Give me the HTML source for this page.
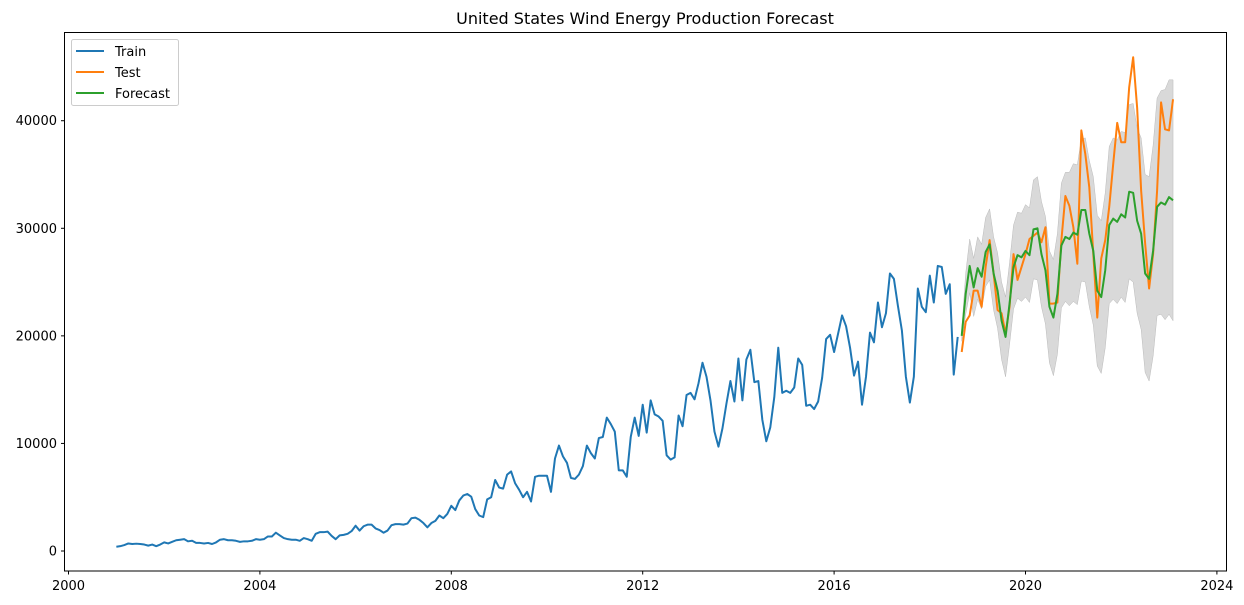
<!DOCTYPE html>
<html><head><meta charset="utf-8"><style>
body{margin:0;background:#fff;}
svg{display:block;font-family:"DejaVu Sans","Liberation Sans",sans-serif;}
</style></head><body>
<svg id="chart" width="1244" height="605" viewBox="0 0 1244 605" xmlns="http://www.w3.org/2000/svg">
<rect width="1244" height="605" fill="#fff"/>
<text x="645" y="24" font-size="16" text-anchor="middle" fill="#000">United States Wind Energy Production Forecast</text>
<g id="band"></g><g id="lines"></g>
<rect x="64.5" y="32.5" width="1162" height="538.5" fill="none" stroke="#000" stroke-width="1"/>
<g id="xaxis"></g><g id="yaxis"></g>
<g>
<rect x="71.5" y="39.5" width="107" height="66" rx="2" fill="#fff" fill-opacity="0.8" stroke="#ccc"/>
<g><line x1="76" y1="51" x2="104" y2="51" stroke="#1f77b4" stroke-width="2"/><text x="115" y="56" font-size="13">Train</text></g>
<g><line x1="76" y1="72" x2="104" y2="72" stroke="#ff7f0e" stroke-width="2"/><text x="115" y="77" font-size="13">Test</text></g>
<g><line x1="76" y1="93" x2="104" y2="93" stroke="#2ca02c" stroke-width="2"/><text x="115" y="98" font-size="13">Forecast</text></g>
</g>
</svg>
<script>
// values in thousands
const trainStartYear = 2001;
const trainValues = [0.4,0.45,0.55,0.7,0.65,0.68,0.65,0.6,0.5,0.6,0.45,0.6,0.8,0.7,0.85,1.0,1.05,1.1,0.9,0.95,0.75,0.75,0.7,0.75,0.65,0.8,1.05,1.1,1.0,1.0,0.95,0.85,0.9,0.9,0.95,1.1,1.05,1.1,1.35,1.35,1.7,1.45,1.2,1.1,1.05,1.05,0.95,1.2,1.1,0.95,1.6,1.75,1.75,1.8,1.4,1.1,1.45,1.5,1.6,1.85,2.35,1.9,2.3,2.45,2.45,2.1,1.95,1.7,1.9,2.4,2.5,2.5,2.45,2.55,3.05,3.1,2.9,2.6,2.2,2.6,2.8,3.3,3.05,3.45,4.2,3.8,4.7,5.15,5.3,5.05,3.9,3.3,3.15,4.8,5.0,6.6,
5.9,5.8,7.1,7.4,6.3,5.7,5.0,5.5,4.6,6.9,7.0,7.0,7.0,5.5,8.6,9.8,8.8,8.2,6.8,6.7,7.1,7.9,9.8,9.1,8.6,10.5,10.6,12.4,11.8,11.1,7.5,7.5,6.9,10.6,12.4,10.7,13.6,11.0,14.0,12.7,12.5,12.1,8.9,8.5,8.7,12.6,11.6,14.5,14.7,14.1,15.6,17.5,16.2,14.0,11.1,9.7,11.4,13.7,15.8,13.9,17.9,14.0,17.8,18.7,15.7,15.8,
12.2,10.2,11.5,14.3,18.9,14.7,14.9,14.7,15.2,17.9,17.3,13.5,13.6,13.2,13.9,16.1,19.7,20.1,18.5,20.2,21.9,20.9,18.9,16.3,17.6,13.6,16.2,20.3,19.4,23.1,20.8,22.1,25.8,25.3,22.8,20.5,16.2,13.8,16.2,24.4,22.7,22.2,25.6,23.1,26.5,26.4,23.9,24.8,16.4,19.9];
const testValues = [18.5,21.3,21.9,24.2,24.2,22.7,26.4,28.9,25.8,22.4,22.1,20.2,22.7,27.6,25.2,26.4,27.6,29.0,29.3,29.6,28.7,30.1,23.0,23.0,23.1,28.9,33.0,32.1,30.1,26.7,39.1,36.9,33.8,27.6,21.7,27.2,28.9,32.0,36.0,39.8,38.0,38.0,43.1,45.9,41.2,33.5,28.6,24.4,27.6,33.5,41.7,39.2,39.1,42.0];
const forecastValues = [20.0,23.9,26.5,24.5,26.3,25.5,27.8,28.5,25.8,24.2,21.4,19.9,23.0,26.4,27.5,27.3,27.9,27.5,29.9,30.0,27.6,26.1,22.7,21.7,23.9,28.4,29.2,29.0,29.6,29.4,31.7,31.7,29.5,27.9,24.2,23.6,26.1,30.3,30.9,30.6,31.3,31.0,33.4,33.3,30.7,29.5,25.8,25.3,27.9,32.0,32.4,32.2,32.9,32.6];
const ciHalfWidth = [0.5,1.9,2.5,2.7,2.9,3.0,3.2,3.3,3.4,3.5,3.6,3.7,3.8,3.9,4.0,4.1,4.3,4.4,4.6,4.8,4.9,5.0,5.2,5.4,5.6,5.8,6.0,6.2,6.4,6.5,6.6,6.7,6.8,6.9,7.0,7.1,7.2,7.3,7.5,7.6,7.7,7.9,8.1,8.3,8.6,8.9,9.2,9.5,9.8,10.1,10.4,10.7,10.9,11.2];
const xTicks = [2000,2004,2008,2012,2016,2020,2024];
const yTicks = [0,10000,20000,30000,40000];

const NS="http://www.w3.org/2000/svg";
const X = yr => 68.5 + (yr-2000)*47.85;
const Y = v => 551 - v*10.757/1000;
const dateOf = i => trainStartYear + i/12;
function mk(tag, attrs, parent){const e=document.createElementNS(NS,tag);for(const k in attrs)e.setAttribute(k,attrs[k]);parent.appendChild(e);return e;}
const nT = trainValues.length;
const up = forecastValues.map((v,i)=>[X(dateOf(nT+i)),Y((v+ciHalfWidth[i])*1000)]);
const lo = forecastValues.map((v,i)=>[X(dateOf(nT+i)),Y((v-ciHalfWidth[i])*1000)]);
const bandPath = mk('path',{d:'M'+up.map(p=>p.join(',')).join('L')+'L'+lo.reverse().map(p=>p.join(',')).join('L')+'Z',fill:'#808080','fill-opacity':'0.3',stroke:'#bbb','stroke-width':'0.5'},document.getElementById('band'));


function line(vals, off, color, name){
  const pts = vals.map((v,i)=>X(dateOf(off+i)).toFixed(2)+','+Y(v*1000).toFixed(2)).join(' ');
  const el = mk('polyline',{points:pts,fill:'none',stroke:color,'stroke-width':'2','stroke-linejoin':'round'},document.getElementById('lines'));
  
  
}
line(trainValues,0,'#1f77b4','train-line');
line(testValues,nT,'#ff7f0e','test-line');
line(forecastValues,nT,'#2ca02c','forecast-line');
const xa=document.getElementById('xaxis');
xTicks.forEach(t=>{
  const g=mk('g',{},xa);
  
  
  mk('line',{x1:X(t),x2:X(t),y1:571,y2:574.5,stroke:'#000'},g);
  const tx=mk('text',{x:X(t),y:590,'font-size':'13','text-anchor':'middle'},g);tx.textContent=t;
});
const ya=document.getElementById('yaxis');
yTicks.forEach(t=>{
  const g=mk('g',{},ya);
  
  
  mk('line',{x1:61,x2:64.5,y1:Y(t),y2:Y(t),stroke:'#000'},g);
  const tx=mk('text',{x:57,y:Y(t)+4.5,'font-size':'13','text-anchor':'end'},g);tx.textContent=t;
});
</script>
</body></html>
